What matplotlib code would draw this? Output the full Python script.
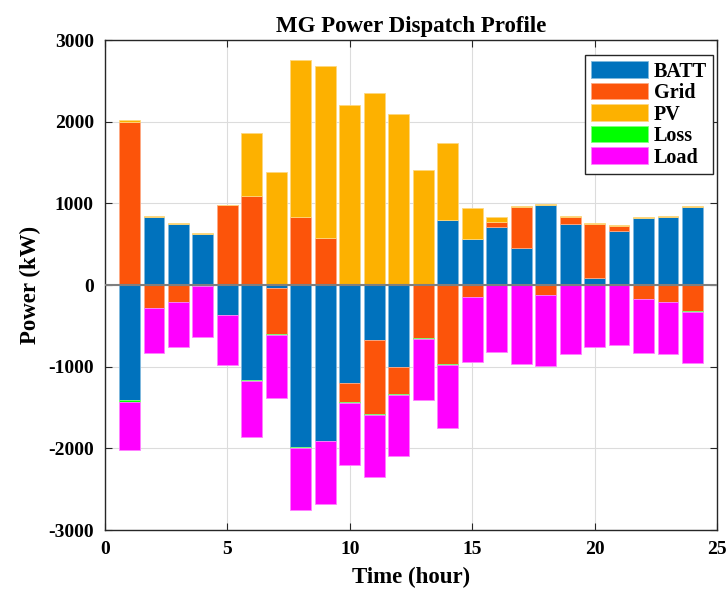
import numpy as np
import matplotlib
matplotlib.use("Agg")
import matplotlib.pyplot as plt

# Hourly dispatch of the microgrid (kW); positive = supply, negative = absorb
hours = np.arange(1, 25)
batt = [-1410, 834, 745, 630, -367, -1160, -40, -1985, -1910, -1198, -676, -998,
        0, 795, 565, 715, 450, 985, 753, 85, 660, 815, 832, 958]
grid = [2000, -277, -208, -12, 975, 1090, -565, 830, 575, -236, -905, -342,
        -652, -970, -147, 57, 510, -122, 80, 665, 65, -171, -204, -322]
pv = [15, 10, 10, 10, 8, 770, 1385, 1925, 2105, 2200, 2352, 2097,
      1409, 950, 380, 57, 12, 12, 12, 12, 12, 12, 12, 12]
loss = [-20, -3, -3, -3, -3, -10, -8, -10, -5, -5, -8, -5,
        -5, -10, -5, -5, -5, -5, -5, -5, -5, -5, -5, -12]
load = [-585, -558, -546, -625, -607, -690, -770, -765, -770, -766, -765, -754,
        -753, -765, -790, -819, -961, -864, -835, -754, -729, -652, -631, -627]

names = ['BATT', 'Grid', 'PV', 'Loss', 'Load']
colors = ['#0072BD', '#FC540A', '#FDB100', '#00FF00', '#FF00FF']
edges = ['#7FB8DE', '#FDA984', '#FED87F', '#7FFF7F', '#FF7FFF']

plt.rcParams['font.family'] = ['Liberation Serif', 'DejaVu Serif']
plt.rcParams['font.weight'] = 'bold'
plt.rcParams['axes.unicode_minus'] = False

fig = plt.figure(figsize=(7.26, 5.91), dpi=100)
ax = fig.add_axes([0.1446, 0.1032, 0.8430, 0.8291])

# stack positives upward and negatives downward, like MATLAB's stacked bar
pos_base = np.zeros(len(hours))
neg_base = np.zeros(len(hours))
for series, name, c, ec in zip([batt, grid, pv, loss, load], names, colors, edges):
    vals = np.array(series, dtype=float)
    base = np.where(vals >= 0, pos_base, neg_base)
    ax.bar(hours, vals, width=0.85, bottom=base, color=c, edgecolor=ec,
           linewidth=0.6, label=name, zorder=2)
    pos_base += np.clip(vals, 0, None)
    neg_base += np.clip(vals, None, 0)

ax.axhline(0, color='#7f7f7f', linewidth=1.5, zorder=3)

ax.set_xlim(0, 25)
ax.set_ylim(-3000, 3000)
ax.set_xticks(np.arange(0, 26, 5))
ax.set_yticks(np.arange(-3000, 3001, 1000))
ax.grid(True, color='#dcdcdc', linewidth=0.8, zorder=0)
ax.tick_params(direction='in', top=True, right=True, labelsize=14, pad=8,
               length=5, width=0.8, colors='#262626', labelcolor='black')
for lbl in ax.get_xticklabels() + ax.get_yticklabels():
    lbl.set_fontweight('bold')
for sp in ax.spines.values():
    sp.set_color('#262626')
    sp.set_linewidth(1.0)

ax.set_title('MG Power Dispatch Profile', fontsize=16.5, fontweight='bold', pad=6)
ax.set_xlabel('Time (hour)', fontsize=16.5, fontweight='bold', labelpad=6)
ax.set_ylabel('Power (kW)', fontsize=16.5, fontweight='bold', labelpad=5)

leg = ax.legend(loc='upper right', bbox_to_anchor=(0.9935, 0.969),
                fontsize=14.5, handlelength=2.8, handleheight=0.9,
                labelspacing=0.06, handletextpad=0.3, borderpad=0.3,
                borderaxespad=0.0, fancybox=False, framealpha=1,
                edgecolor='#262626')
leg.get_frame().set_linewidth(1.0)

fig.savefig('out.png', dpi=100)
